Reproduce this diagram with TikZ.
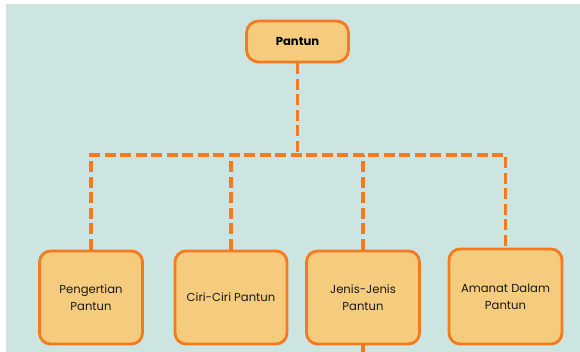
\documentclass[tikz,border=0pt]{standalone}
\usepackage{fontspec}
\setmainfont{Poppins}
\definecolor{bgteal}{HTML}{CDE5E0}
\definecolor{orng}{HTML}{F47A20}
\definecolor{boxfill}{HTML}{F5CB7D}
\begin{document}
\begin{tikzpicture}[x=1pt,y=-1pt,
  box/.style={draw=orng, fill=boxfill, line width=2.8pt, rounded corners=11pt,
    minimum width=103pt, minimum height=93pt, align=center, inner sep=0pt,
    font=\fontsize{11.6}{17}\selectfont, text=black!90},
  topbox/.style={draw=orng, fill=boxfill, line width=2.8pt, rounded corners=12pt,
    minimum width=102pt, minimum height=41pt, inner sep=0pt,
    font=\fontsize{11.6}{14}\selectfont\bfseries},
  conn/.style={draw=orng, line width=3.6pt, dash pattern=on 11pt off 4.5pt}]
\useasboundingbox (0,0) rectangle (580,352);
\fill[white] (0,0) rectangle (580,352);
\fill[bgteal] (6,4) rectangle (580,352);
\node[topbox] (pantun) at (297.5,41.5) {Pantun};
\node[box] (b1) at (91,297.5) {Pengertian\\Pantun};
\node[box, minimum width=112pt] (b2) at (231,297.5) {Ciri-Ciri Pantun};
\node[box, minimum width=113pt] (b3) at (363,297.5) {Jenis-Jenis\\Pantun};
\node[box, minimum width=113pt, minimum height=95pt] (b4) at (505.5,296.5) {Amanat Dalam\\Pantun};
\coordinate (bar) at (297.5,155);
\coordinate (tail) at (363,352);
\draw[conn] (pantun.south) -- (bar);
\draw[conn] (b1.north) |- (bar) -| (b4.north);
\draw[conn] (b2.north) -- (b2.north |- bar);
\draw[conn] (b3.north) -- (b3.north |- bar);
\draw[conn] (b3.south) -- (tail);
\end{tikzpicture}
\end{document}
